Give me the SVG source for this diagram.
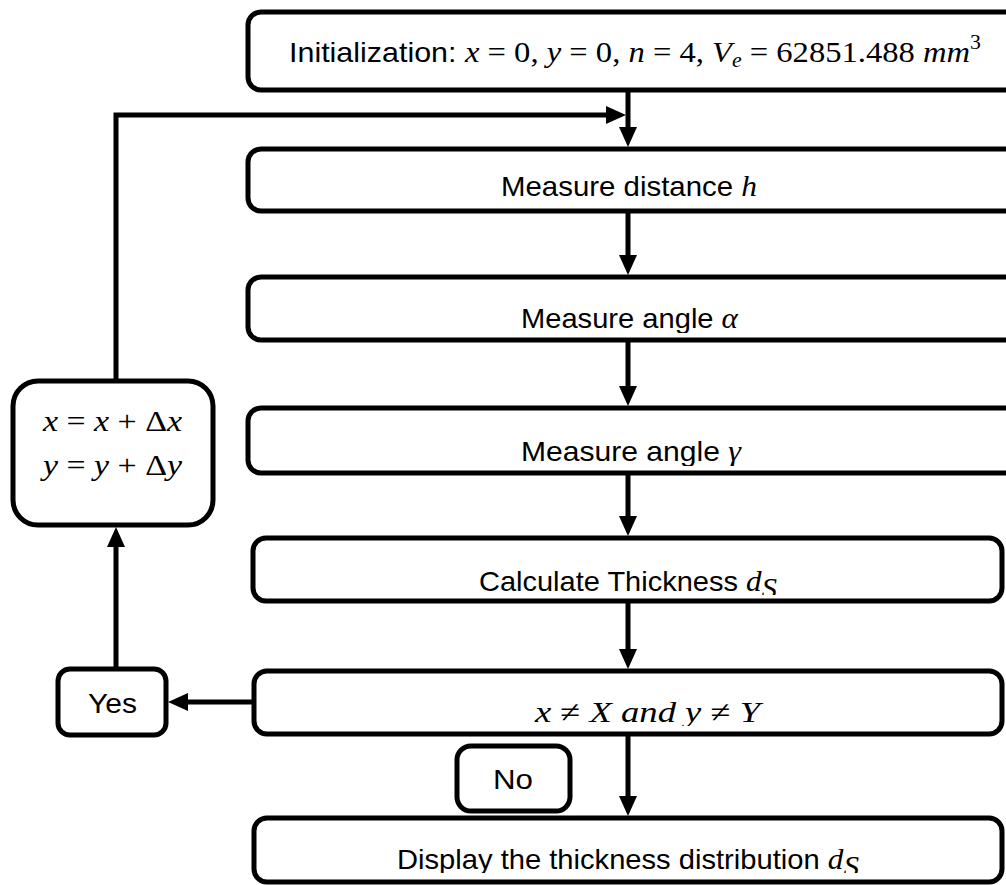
<svg xmlns="http://www.w3.org/2000/svg" width="1006" height="885" viewBox="0 0 1006 885">
<defs>
<style>
.box{fill:#fff;stroke:#000;stroke-width:5}
.t{font-family:"Liberation Sans",Arial,sans-serif;font-size:28px;fill:#000}
.m{font-family:"Liberation Serif","Times New Roman",serif;font-size:30px}
.i{font-style:italic}
.c{fill:none;stroke:#000;stroke-width:5}
</style>
<marker id="ah" markerUnits="userSpaceOnUse" markerWidth="22" markerHeight="20" refX="10" refY="9" orient="auto" viewBox="0 0 22 20">
<path d="M0,0 L20,9 L0,18 z" fill="#000"/>
</marker>
<clipPath id="c3"><rect x="250" y="279" width="760" height="54"/></clipPath>
<clipPath id="c4"><rect x="250" y="410" width="760" height="56"/></clipPath>
<clipPath id="c5"><rect x="255" y="540" width="745" height="55"/></clipPath>
<clipPath id="c6"><rect x="256" y="673" width="744" height="53"/></clipPath>
<clipPath id="c7"><rect x="256" y="820" width="744" height="53"/></clipPath>
</defs>
<rect width="1006" height="885" fill="#fff"/>

<g id="connectors">
<path class="c" d="M628,92 V137" marker-end="url(#ah)"/>
<path class="c" d="M116,381 V115 H616" marker-end="url(#ah)"/>
<path class="c" d="M628,211 V265" marker-end="url(#ah)"/>
<path class="c" d="M628,340 V396" marker-end="url(#ah)"/>
<path class="c" d="M628,473 V526" marker-end="url(#ah)"/>
<path class="c" d="M628,601 V659" marker-end="url(#ah)"/>
<path class="c" d="M254,702 H178" marker-end="url(#ah)"/>
<path class="c" d="M116,669 V537" marker-end="url(#ah)"/>
<path class="c" d="M628,734 V806" marker-end="url(#ah)"/>
</g>

<g id="init">
<rect class="box" x="248" y="12" width="770" height="78" rx="13"/>
<text class="t" x="289" y="62" textLength="692" lengthAdjust="spacingAndGlyphs">Initialization: <tspan class="m"><tspan class="i">x</tspan> = 0, <tspan class="i">y</tspan> = 0, <tspan class="i">n</tspan> = 4, <tspan class="i">V</tspan><tspan class="i" dy="5" font-size="20">e</tspan><tspan dy="-5"> = 62851.488 </tspan><tspan class="i">mm</tspan><tspan dy="-13" font-size="20">3</tspan></tspan></text>
</g>

<g id="measure-h">
<rect class="box" x="248" y="149" width="770" height="62" rx="13"/>
<text class="t" x="501" y="196" textLength="256" lengthAdjust="spacingAndGlyphs">Measure distance <tspan class="m i">h</tspan></text>
</g>

<g id="measure-alpha">
<rect class="box" x="248" y="277" width="770" height="63" rx="13"/>
<text class="t" x="521" y="328" textLength="217" lengthAdjust="spacingAndGlyphs" clip-path="url(#c3)">Measure angle <tspan class="m i">α</tspan></text>
</g>

<g id="measure-gamma">
<rect class="box" x="248" y="408" width="770" height="65" rx="13"/>
<text class="t" x="521" y="461" textLength="220" lengthAdjust="spacingAndGlyphs" clip-path="url(#c4)">Measure angle <tspan class="m i">γ</tspan></text>
</g>

<g id="calc">
<rect class="box" x="253" y="538" width="749" height="63" rx="13"/>
<text class="t" x="479" y="591" textLength="298" lengthAdjust="spacingAndGlyphs" clip-path="url(#c5)">Calculate Thickness <tspan class="m i">d</tspan><tspan class="m i" dy="7" font-size="21">S</tspan></text>
</g>

<g id="condition">
<rect class="box" x="254" y="671" width="748" height="63" rx="13"/>
<text class="t m" x="535" y="722" textLength="225" lengthAdjust="spacingAndGlyphs" clip-path="url(#c6)"><tspan class="i">x</tspan> ≠ <tspan class="i">X and y</tspan> ≠ <tspan class="i">Y</tspan></text>
</g>

<g id="display">
<rect class="box" x="254" y="818" width="748" height="64" rx="13"/>
<text class="t" x="397" y="869" textLength="462" lengthAdjust="spacingAndGlyphs" clip-path="url(#c7)">Display the thickness distribution <tspan class="m i">d</tspan><tspan class="m i" dy="7" font-size="21">S</tspan></text>
</g>

<g id="update">
<rect class="box" x="13" y="381" width="200" height="144" rx="25"/>
<text class="t m" x="43" y="431" font-size="32" textLength="139" lengthAdjust="spacingAndGlyphs"><tspan class="i">x</tspan> = <tspan class="i">x</tspan> + Δ<tspan class="i">x</tspan></text>
<text class="t m" x="43" y="475" font-size="32" textLength="139" lengthAdjust="spacingAndGlyphs"><tspan class="i">y</tspan> = <tspan class="i">y</tspan> + Δ<tspan class="i">y</tspan></text>
</g>

<g id="yes">
<rect class="box" x="58" y="669" width="108" height="66" rx="12"/>
<text class="t" x="88" y="713" textLength="49" lengthAdjust="spacingAndGlyphs">Yes</text>
</g>

<g id="no">
<rect class="box" x="457" y="746" width="113" height="65" rx="14"/>
<text class="t" x="493" y="789" textLength="40" lengthAdjust="spacingAndGlyphs">No</text>
</g>
</svg>
